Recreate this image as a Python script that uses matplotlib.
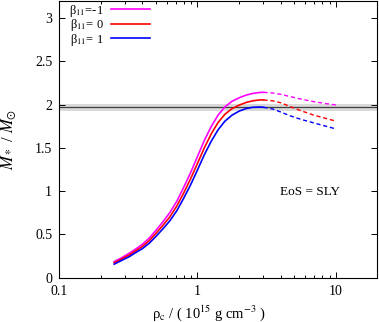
import matplotlib
matplotlib.use("Agg")
import matplotlib.pyplot as plt

plt.rcParams['font.family'] = ['Liberation Serif', 'DejaVu Serif']
plt.rcParams['mathtext.fontset'] = 'stix'
plt.rcParams['font.size'] = 10

# central density (10^15 g/cm^3), solid (stable) branch
rho_solid = [0.25, 0.28, 0.32, 0.35, 0.40, 0.45, 0.50, 0.56, 0.63, 0.71, 0.79,
             0.89, 1.0, 1.12, 1.26, 1.41, 1.58, 1.78, 2.0, 2.24, 2.51, 2.82, 3.0]
m_bm1 = [0.185, 0.225, 0.28, 0.32, 0.385, 0.46, 0.545, 0.64, 0.75, 0.885, 1.035,
         1.21, 1.40, 1.585, 1.75, 1.88, 1.975, 2.04, 2.08, 2.11, 2.13, 2.142, 2.143]
m_b0 = [0.17, 0.21, 0.26, 0.30, 0.36, 0.43, 0.51, 0.60, 0.70, 0.83, 0.97,
        1.14, 1.32, 1.50, 1.665, 1.795, 1.89, 1.955, 1.995, 2.025, 2.045, 2.055, 2.055]
m_b1 = [0.155, 0.195, 0.24, 0.28, 0.335, 0.40, 0.475, 0.56, 0.655, 0.775, 0.91,
        1.07, 1.245, 1.42, 1.58, 1.71, 1.81, 1.88, 1.925, 1.955, 1.97, 1.973, 1.97]

# unstable branch (dashed)
rho_dash = [3.0, 3.5, 4.0, 4.7, 5.6, 6.9, 8.3, 10.0]
md_bm1 = [2.143, 2.135, 2.12, 2.093, 2.065, 2.035, 2.015, 1.997]
md_b0 = [2.055, 2.045, 2.022, 1.977, 1.93, 1.88, 1.845, 1.81]
md_b1 = [1.97, 1.95, 1.915, 1.87, 1.83, 1.79, 1.755, 1.72]

labels = [r'β$_{11}$=-1', r'β$_{11}$= 0', r'β$_{11}$= 1']
colors = ['#ff00ff', '#ff0000', '#0000ff']

# observed maximum mass band
m_obs, m_err = 1.97, 0.04

fig = plt.figure(figsize=(3.79, 3.22), dpi=100)
ax = fig.add_axes([0.156, 0.138, 0.840, 0.859])

ax.axhspan(m_obs - m_err, m_obs + m_err, color='#d9d9d9', lw=0, zorder=1)
ax.axhline(m_obs, color='#404040', lw=0.9, zorder=2)

for ms, md, lab, c in zip([m_bm1, m_b0, m_b1], [md_bm1, md_b0, md_b1], labels, colors):
    ax.plot(rho_solid, ms, color=c, lw=1.2, label=lab, zorder=3)
    ax.plot(rho_dash, md, color=c, lw=1.0, dashes=(3, 2), zorder=3)

ax.set_xscale('log')
ax.set_xlim(0.1, 20)
ax.set_ylim(0, 3.2)
ax.set_yticks([0, 0.5, 1, 1.5, 2, 2.5, 3])
ax.set_yticklabels(['0', '0.5', '1', '1.5', '2', '2.5', '3'])
ax.set_xticks([0.1, 1, 10])
ax.set_xticklabels(['0.1', '1', '10'])
ax.tick_params(which='both', direction='in', top=True, right=True, width=0.7)
ax.tick_params(which='major', length=4.5)
ax.tick_params(which='minor', length=2.5)
ax.tick_params(axis='x', pad=5)
ax.tick_params(axis='y', pad=5)
for s in ax.spines.values():
    s.set_linewidth(0.8)

ax.set_xlabel(r'ρ$_{\rm c}$ / ( 10$^{15}$ g cm$^{-3}$ )', fontsize=10.5)
ax.xaxis.set_label_coords(0.47, -0.095)
ax.set_ylabel(r'$M_*$ / $M_{\odot}$', fontsize=12)
ax.yaxis.set_label_coords(-0.128, 0.5)

ax.text(0.788, 0.31, 'EoS = SLY', transform=ax.transAxes, ha='center', va='center',
        fontsize=9.5)

ax.legend(loc='upper left', bbox_to_anchor=(0.016, 1.012), frameon=False, markerfirst=False,
          fontsize=9, handlelength=3.1, handletextpad=0.55, labelspacing=-0.12,
          borderaxespad=0.0)

fig.savefig('out.png', dpi=100)
